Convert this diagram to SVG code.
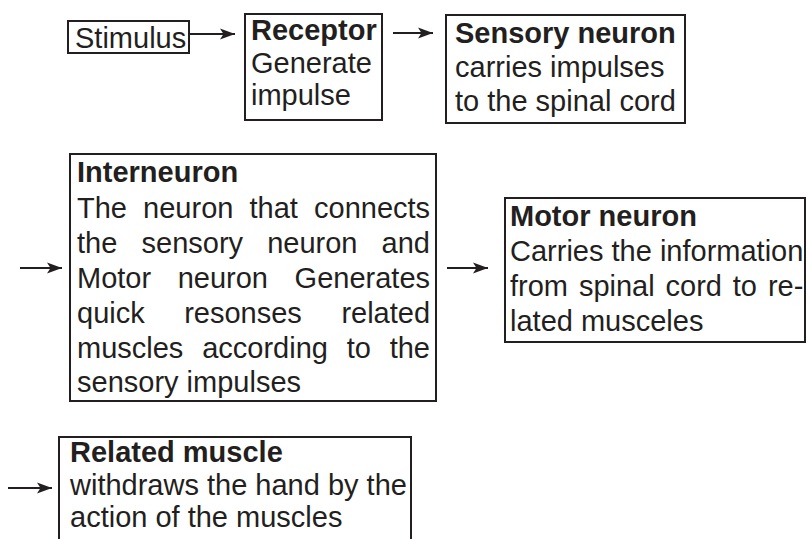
<svg xmlns="http://www.w3.org/2000/svg" width="809" height="539" viewBox="0 0 809 539">
<style>
.box{fill:#fff;stroke:#231f20;stroke-width:2}
.t{font-family:"Liberation Sans",Arial,sans-serif;font-size:29px;fill:#231f20}
.b{font-weight:bold}
.c{stroke:#231f20;stroke-width:2;fill:none}
</style>
<defs>
<marker id="ah" markerUnits="userSpaceOnUse" markerWidth="16" markerHeight="12" refX="15" refY="6" orient="auto">
<path d="M0,0.5 L15,6 L0,11.5 L3.5,6 Z" fill="#231f20"/>
</marker>
</defs>
<rect width="809" height="539" fill="#fff"/>
<g id="connectors">
<line class="c" x1="189" y1="34" x2="235" y2="34" marker-end="url(#ah)"/>
<line class="c" x1="393" y1="33" x2="433" y2="33" marker-end="url(#ah)"/>
<line class="c" x1="20" y1="268" x2="62" y2="268" marker-end="url(#ah)"/>
<line class="c" x1="447" y1="268" x2="488" y2="268" marker-end="url(#ah)"/>
<line class="c" x1="8" y1="488" x2="52" y2="488" marker-end="url(#ah)"/>
</g>
<g id="stimulus">
<rect class="box" x="68" y="21" width="121" height="32"/>
<text class="t" x="75" y="48">Stimulus</text>
</g>
<g id="receptor">
<rect class="box" x="245" y="14" width="137" height="106"/>
<text class="t b" x="251" y="40">Receptor</text>
<text class="t" x="251" y="73">Generate</text>
<text class="t" x="251" y="105">impulse</text>
</g>
<g id="sensory">
<rect class="box" x="446" y="15" width="239" height="108"/>
<text class="t b" x="455" y="43">Sensory neuron</text>
<text class="t" x="455" y="77">carries impulses</text>
<text class="t" x="455" y="111">to the spinal cord</text>
</g>
<g id="interneuron">
<rect class="box" x="70" y="154" width="366" height="247"/>
<text class="t b" x="77" y="182">Interneuron</text>
<text class="t" y="218"><tspan x="77">The</tspan><tspan x="143.1">neuron</tspan><tspan x="249.5">that</tspan><tspan x="314">connects</tspan></text>
<text class="t" y="253"><tspan x="77">the</tspan><tspan x="141.5">sensory</tspan><tspan x="267.2">neuron</tspan><tspan x="381.6">and</tspan></text>
<text class="t" y="288"><tspan x="77">Motor</tspan><tspan x="177.7">neuron</tspan><tspan x="294.6">Generates</tspan></text>
<text class="t" y="323"><tspan x="77">quick</tspan><tspan x="184.2">resonses</tspan><tspan x="341.4">related</tspan></text>
<text class="t" y="358"><tspan x="77">muscles</tspan><tspan x="202.2">according</tspan><tspan x="346.7">to</tspan><tspan x="389.7">the</tspan></text>
<text class="t" x="77" y="392">sensory impulses</text>
</g>
<g id="motor">
<rect class="box" x="505" y="198" width="300" height="144"/>
<text class="t b" x="510" y="226">Motor neuron</text>
<text class="t" x="510" y="261">Carries the information</text>
<text class="t" y="296"><tspan x="510">from</tspan><tspan x="578.9">spinal</tspan><tspan x="665.5">cord</tspan><tspan x="732.8">to</tspan><tspan x="767.9">re-</tspan></text>
<text class="t" x="510" y="331">lated musceles</text>
</g>
<g id="related">
<rect class="box" x="59" y="437" width="352" height="110"/>
<text class="t b" x="70" y="462">Related muscle</text>
<text class="t" x="70" y="495">withdraws the hand by the</text>
<text class="t" x="70" y="527">action of the muscles</text>
</g>
</svg>
